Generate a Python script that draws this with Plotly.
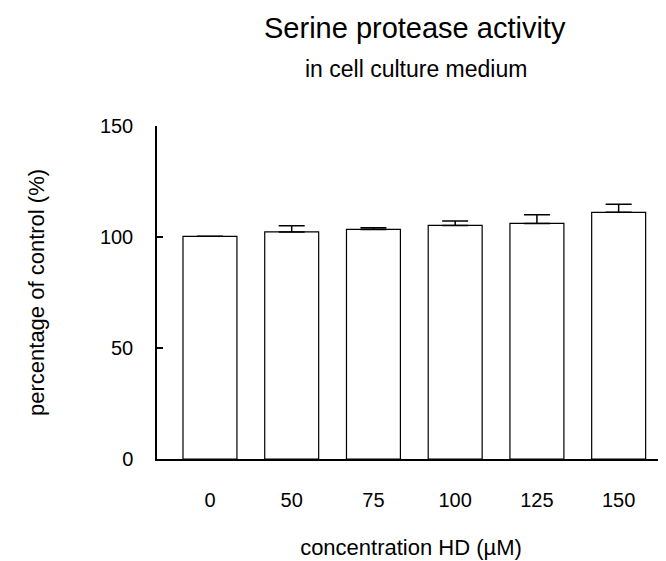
import plotly.graph_objects as go

categories = ["0", "50", "75", "100", "125", "150"]
values = [100.3, 102.3, 103.4, 105.2, 106.1, 111.1]
errors = [0, 2.8, 0.8, 2.0, 3.9, 3.7]
y_ticks = [0, 50, 100, 150]

FONT = "Liberation Sans, Arial, Helvetica, sans-serif"

fig = go.Figure()
fig.add_trace(go.Bar(
    x=categories,
    y=values,
    width=0.66,
    marker=dict(color="white", line=dict(color="black", width=1.2)),
    error_y=dict(type="data", array=errors, arrayminus=[0] * len(errors),
                 symmetric=False, color="black", thickness=1.5, width=13),
    showlegend=False,
))

# page body has an 8px default margin; margins compensate for it
fig.update_layout(
    width=666, height=561,
    margin=dict(l=149, r=9, t=118, b=110, autoexpand=False),
    paper_bgcolor="white", plot_bgcolor="white",
    font=dict(family=FONT, color="black", size=20),
    xaxis=dict(
        type="category", range=[-0.648, 5.567],
        showline=True, linecolor="black", linewidth=1.5,
        ticks="", showgrid=False, zeroline=False,
        tickfont=dict(size=20), ticklabelstandoff=22,
        title=dict(text="concentration HD (µM)", font=dict(size=22), standoff=30),
    ),
    yaxis=dict(
        range=[0, 150], tickvals=y_ticks,
        showline=True, linecolor="black", linewidth=1.5,
        ticks="inside", ticklen=6, tickwidth=1.5, tickcolor="black",
        showgrid=False, zeroline=False,
        tickfont=dict(size=20), ticklabelstandoff=18,
        title=dict(text="percentage of control (%)", font=dict(size=22), standoff=49),
    ),
    annotations=[
        dict(text="Serine protease activity", xref="paper", yref="paper",
             x=0.508, y=1.294, xanchor="center", yanchor="middle",
             showarrow=False, font=dict(size=29, family=FONT)),
        dict(text="in cell culture medium", xref="paper", yref="paper",
             x=0.509, y=1.171, xanchor="center", yanchor="middle",
             showarrow=False, font=dict(size=23, family=FONT)),
    ],
)

fig.write_html("out.html")
